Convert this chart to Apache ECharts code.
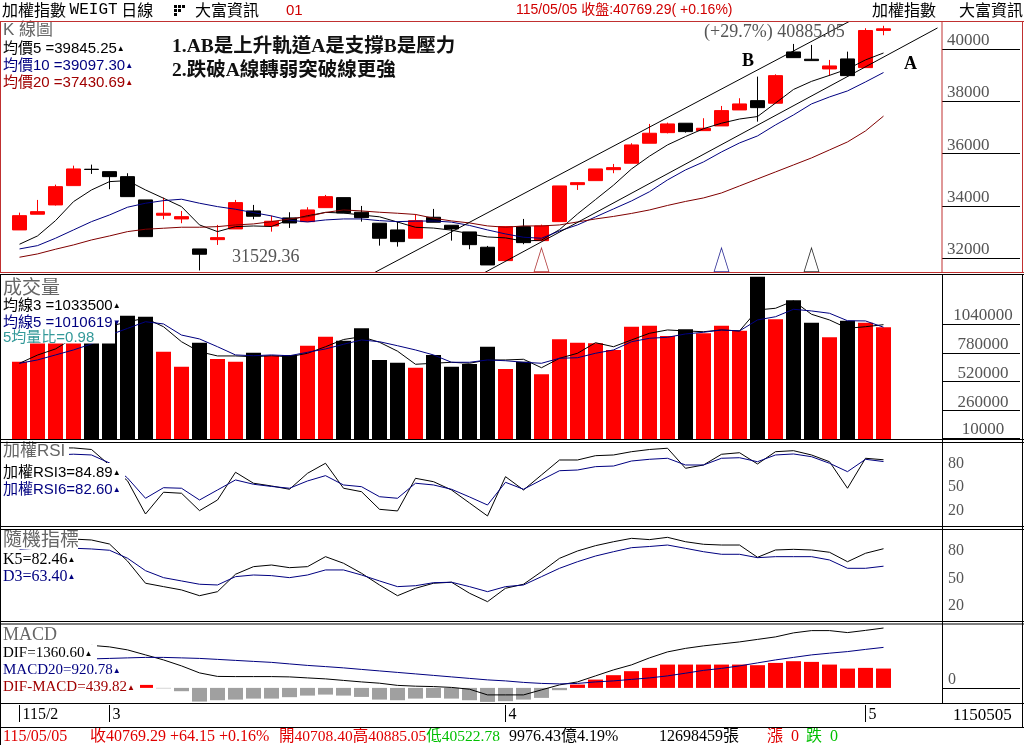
<!DOCTYPE html>
<html><head><meta charset="utf-8">
<script src="https://cdn.jsdelivr.net/npm/echarts@6/dist/echarts.min.js"></script>
<style>html,body{margin:0;padding:0;background:#fff}#c{width:1024px;height:745px}</style>
</head><body><div id="c"></div>
<script>
// ---------------- data ----------------
const dates = ['115/02/11','115/02/23','115/02/24','115/02/25','115/02/26',
 '115/03/02','115/03/03','115/03/04','115/03/05','115/03/06','115/03/09','115/03/10','115/03/11','115/03/12','115/03/13',
 '115/03/16','115/03/17','115/03/18','115/03/19','115/03/20','115/03/23','115/03/24','115/03/25','115/03/26','115/03/27',
 '115/03/30','115/03/31',
 '115/04/01','115/04/02','115/04/07','115/04/08','115/04/09','115/04/10','115/04/13','115/04/14','115/04/15','115/04/16',
 '115/04/17','115/04/20','115/04/21','115/04/22','115/04/23','115/04/24','115/04/27','115/04/28','115/04/29','115/04/30',
 '115/05/04','115/05/05'];
const opens = [33079,33679,34035,34773,35400,35308,35117,34226,33641,33499,32352,32708,33117,33805,33231,33538,33396,33931,34314,33755,33335,33079,32761,33564,33258,33002,32417,31905,33205,32669,33396,34811,34964,35384,35629,36394,36799,37159,36876,37056,37667,38023,37924,39885,39606,39235,39618,39285,40708.40];
const closes = [33625,33778,34734,35411,35390,35117,34352,32822,33717,33587,32149,32784,34123,33602,33411,33346,33843,34352,33729,33549,32761,32631,33434,33373,33117,32516,31740,33205,32593,33231,34761,34887,35411,35461,36329,36776,37132,36838,36967,37641,37897,37755,38979,39667,39553,39350,38979,40705,40769.29];
const lows = [33079,33679,34010,34773,35220,34635,34352,32822,33488,33335,31529.36,32505,33117,33488,33013,33155,33396,33931,33729,33396,32478,32440,32761,33373,32669,32340,31740,31905,32532,32669,33396,34608,34964,35247,35629,36394,36770,36800,36876,37056,37667,37220,37924,39667,39553,38968,38979,39285,40522.78];
const highs = [33740,34226,34811,35537,35576,35308,35247,34226,34314,33805,32352,33270,34226,34035,33625,33755,33947,34417,34314,33996,33335,33396,33679,33882,33258,33002,32467,33205,33499,33282,34761,34887,35411,35602,36394,37132,37182,37159,37350,37820,38115,38941,39030,40191,40153,39579,39897,40792,40885.05];
const ma5 = [32532,32849,33434,34161,34608,34926,34964,34608,34291,33970,33270,33014,33205,33230,33210,33470,33620,33750,33725,33650,33580,33380,33180,33150,33070,32930,32810,32775,32650,32690,33090,33690,34240,34790,35410,35900,36330,36650,36950,37160,37320,37415,37930,38450,38760,38990,39230,39580,39845.25];
const ma10 = [32352,32478,32761,33079,33396,33652,33947,34100,34199,34253,34100,33970,33870,33740,33614,33449,33384,33461,33499,33499,33434,33396,33415,33423,33377,33251,33079,32926,32799,32761,33040,33270,33576,33882,34188,34540,34991,35373,35679,36061,36405,36673,37094,37476,37897,38164,38394,38738,39097.30];
const ma20 = [32035,32161,32341,32505,32696,32849,33014,33105,33144,33182,33182,33205,33270,33308,33396,33499,33587,33748,33843,33805,33755,33717,33671,33526,33423,33346,33232,33182,33232,33232,33270,33384,33499,33595,33710,33843,34015,34168,34302,34493,34761,35029,35296,35564,35832,36138,36444,36864,37430.69];
const volumes = [700000,880000,900000,960000,1000000,1060000,1114000,1105000,790000,655000,871000,725000,700000,781000,754000,761000,844000,925000,889000,1001000,716000,691000,646000,761000,655000,680000,835000,635000,700000,587000,902000,871000,866000,806000,1015000,1024000,932000,992000,956000,1024000,979000,1465000,1082000,1253000,1051000,920000,1069000,1051000,1010000];
const volMa3 = [686000,760000,815000,913000,953000,1017000,1060000,1091000,1015000,880000,790000,752000,752000,745000,754000,745000,776000,835000,900000,925000,875000,795000,677000,686000,695000,686000,716000,716000,722000,646000,731000,776000,871000,835000,896000,956000,986000,977000,970000,986000,977000,1166000,1181000,1247000,1127000,1076000,1001000,1015000,1033500];
const volMa5 = [686000,716000,761000,806000,860000,940000,1000000,1060000,1040000,940000,905000,835000,761000,754000,761000,754000,785000,815000,857000,896000,880000,844000,806000,761000,695000,695000,716000,709000,695000,686000,731000,736000,776000,806000,880000,911000,920000,950000,965000,986000,977000,1076000,1105000,1172000,1157000,1136000,1069000,1067000,1010619];
const rsi3 = [100,100,100,100,98,78,58,15.6,43.4,42.1,19.9,33.5,68.9,54.9,51.4,47.2,67.6,80.4,48.5,44.1,21.6,19.5,61.2,56.9,46.3,29.7,13.1,63.3,46.3,65.5,84.6,84.6,90.1,91,95.2,98,99.6,74,78.2,91.9,93.9,79.5,95.2,96.5,91,82.4,48.5,86.8,84.89];
const rsi6 = [90,91,91,92,91,80.8,61.6,35.7,49.2,48.5,33.5,46.3,59.1,53.6,50.8,48.5,57.8,64.6,52.7,50.5,37.7,35.7,54.9,52.7,47.2,37.4,27.1,56.1,47.2,59.1,70.9,71.8,76.1,76.9,83.3,85.5,86.8,78.2,78.2,86.8,87.5,82.4,91,92.3,88.8,80.4,69.7,85.5,82.60];
const k5 = [88,90,92,93,92,87.6,69,44.8,41.1,37.5,31.2,35.6,54.6,62.9,64.7,61.8,62.9,73.8,66.6,55.7,42.9,31.2,39.3,44.8,45.9,33.9,24.7,39.3,43.7,57.4,72,80,85.8,90.1,93.8,92.4,94.9,90.1,87.3,86.5,86.5,73.1,81.1,81.8,81.1,78.6,68.3,77.5,82.46];
const d3 = [82,83,83,83,82.2,80.8,72.1,58.5,50.9,47.3,43.7,42.9,52,53.8,53.1,50.9,53.8,59.3,59.3,53.8,47.3,41.1,42.1,45.4,45.9,41.1,35.6,41.1,42.9,52,61.1,68.3,74.5,79.2,83.6,84.9,86.5,82.9,79.2,76.4,76.4,72.7,73.8,73.8,73.8,70.2,61.1,61.1,63.40];
const dif = [null,null,null,null,966,932,864,750,636,500,341,261,257,257,257,250,227,205,170,136,107,57,39,30,11,-30,-159,-159,-159,-45,68,136,273,409,523,682,818,898,955,1000,1045,1102,1159,1250,1302,1302,1257,1307,1360.60];
const macd20 = [null,null,null,null,659,670,682,693,693,682,670,648,625,602,580,545,511,484,455,420,386,352,318,284,250,216,182,159,125,102,91,102,136,159,193,227,273,334,398,443,500,568,636,693,750,789,825,875,920.78];
const macdHist = [null,null,null,null,null,null,null,68,-10,-75,-311,-280,-266,-243,-243,-211,-175,-152,-175,-205,-266,-280,-243,-227,-243,-280,-318,-302,-266,-227,-52,75,189,289,380,455,530,530,530,530,530,516,568,607,591,530,439,455,439.82];
const priceTicks = [32000,34000,36000,38000,40000];
const volumeTicks = [10000,260000,520000,780000,1040000];
const oscTicks = [20,50,80];
const macdTicks = [0];
const channelA = [[25,31136],[51,40803]];
const channelB = [[19,31186],[47,41380]];
const signalIdx = [29,39,44];
const signalColors = ['#a01010','#000080','#000000'];
const emptySlots = 3;

// ---------------- layout / style ----------------
const RED = '#ff0000', BLK = '#000000', NAVY = '#000080', DRED = '#800000', GRAY = '#a0a0a0';
const FR = '#c03030';
const SANS = '"Liberation Sans","Noto Sans CJK TC",sans-serif';
const SERIF = '"Liberation Serif","Noto Sans CJK TC",serif';
const CJK = '"Noto Sans CJK TC","Liberation Sans",sans-serif';
const PRICE_MIN = 31470, PRICE_MAX = 41030;

const cats = dates.concat(Array.from({length: emptySlots}, (_, i) => ' '.repeat(i + 1)));
const monthStart = [];
dates.forEach((d, i) => { const m = d.slice(4, 6); if (i === 0 || m !== dates[i - 1].slice(4, 6)) monthStart.push(i); });
const monthLabel = i => { const d = dates[i]; const m = String(parseInt(d.slice(4, 6), 10)); return i === 0 ? d.slice(0, 3) + '/' + m : m; };

const GL = 10.5, GW = 936;
const grids = [
  {left: GL, top: 22, width: GW, height: 250},
  {left: GL, top: 275, width: GW, height: 164.5},
  {left: GL, top: 443, width: GW, height: 84},
  {left: GL, top: 530, width: GW, height: 92},
  {left: GL, top: 624, width: GW, height: 79.3},
  {left: GL, top: 705, width: GW, height: 22}
].map(g => Object.assign({outerBoundsMode: 'none', containLabel: false, show: false}, g));

const xAxes = [0,1,2,3,4].map(gi => ({type: 'category', gridIndex: gi, data: cats, boundaryGap: true, show: false}));
xAxes.push({type: 'category', gridIndex: 5, data: cats, boundaryGap: true, position: 'top',
  axisLine: {show: false, onZero: false}, splitLine: {show: false},
  axisTick: {show: true, inside: true, length: 17, alignWithLabel: true, interval: i => monthStart.includes(i), lineStyle: {color: '#000', width: 1}},
  axisLabel: {show: true, inside: true, interval: i => monthStart.includes(i), formatter: (v, i) => monthLabel(i),
    align: 'left', verticalAlign: 'top', margin: 2, padding: [0, 0, 0, 3], color: '#000', fontFamily: SERIF, fontSize: 16}});

function rAxis(gi, min, max, ticks, opts) {
  return {type: 'value', gridIndex: gi, position: 'right', offset: -4.5, min: min, max: max,
    splitLine: {show: false}, axisLine: {show: false},
    axisTick: {show: !!opts.tick, customValues: ticks, length: 78, inside: false, lineStyle: {color: '#000', width: 1}},
    axisLabel: {customValues: ticks, formatter: v => String(v), margin: opts.margin, align: opts.align, verticalAlign: opts.va,
      color: '#555', fontFamily: SERIF, fontSize: opts.fs}};
}
const yAxes = [
  rAxis(0, PRICE_MIN, PRICE_MAX, priceTicks, {tick: true, margin: 5, align: 'left', va: 'bottom', fs: 17}),
  rAxis(1, 0, 1480500, volumeTicks, {tick: true, margin: 41, align: 'center', va: 'bottom', fs: 17}),
  rAxis(2, -1, 106.3, oscTicks, {tick: false, margin: 6, align: 'left', va: 'middle', fs: 16}),
  rAxis(3, 2.5, 102.9, oscTicks, {tick: false, margin: 6, align: 'left', va: 'middle', fs: 16}),
  rAxis(4, -350, 1452, macdTicks, {tick: true, margin: 6, align: 'left', va: 'bottom', fs: 16}),
  {type: 'value', gridIndex: 5, show: false, min: 0, max: 1}
];

function line(gi, data, color) {
  return {type: 'line', xAxisIndex: gi, yAxisIndex: gi, data: data, symbol: 'none', silent: true,
    lineStyle: {color: color, width: 1}, itemStyle: {color: color}, emphasis: {disabled: true}, connectNulls: false};
}
const series = [
  {type: 'candlestick', xAxisIndex: 0, yAxisIndex: 0, barWidth: 15, silent: true,
   data: opens.map((o, i) => [o, closes[i], lows[i], highs[i]]),
   itemStyle: {color: RED, color0: BLK, borderColor: RED, borderColor0: BLK, borderWidth: 1}},
  line(0, ma5, BLK), line(0, ma10, NAVY), line(0, ma20, DRED),
  line(0, channelA, BLK), line(0, channelB, BLK),
  {type: 'scatter', xAxisIndex: 0, yAxisIndex: 0, symbol: 'triangle', symbolSize: [15, 24], symbolOffset: [0, -12], clip: false, silent: true,
   data: signalIdx.map((idx, k) => ({value: [idx, PRICE_MIN], itemStyle: {color: 'rgba(0,0,0,0)', borderColor: signalColors[k], borderWidth: 1}}))},
  {type: 'bar', xAxisIndex: 1, yAxisIndex: 1, barWidth: 15, silent: true,
   data: volumes.map((v, i) => ({value: v, itemStyle: {color: closes[i] >= opens[i] ? RED : BLK}}))},
  line(1, volMa3, BLK), line(1, volMa5, NAVY),
  line(2, rsi3, BLK), line(2, rsi6, NAVY),
  line(3, k5, BLK), line(3, d3, NAVY),
  {type: 'bar', xAxisIndex: 4, yAxisIndex: 4, barWidth: 15, silent: true,
   data: macdHist.map(v => v == null ? null : {value: v, itemStyle: {color: v >= 0 ? RED : GRAY}})},
  line(4, dif, BLK), line(4, macd20, NAVY)
];

// ---------------- frame & texts ----------------
const G = [];
function hl(y, x1, x2, c) { G.push({type: 'line', silent: true, z: 300, shape: {x1: x1, y1: y, x2: x2, y2: y}, style: {stroke: c, lineWidth: 1}}); }
function vl(x, y1, y2, c) { G.push({type: 'line', silent: true, z: 300, shape: {x1: x, y1: y1, x2: x, y2: y2}, style: {stroke: c, lineWidth: 1}}); }
function box(x, y, w, h) { G.push({type: 'rect', silent: true, z: 250, shape: {x: x, y: y, width: w, height: h}, style: {fill: '#fff'}}); }
function txt(x, y, text, size, family, fill, weight, rich) {
  const st = {text: text, fontSize: size, fontFamily: family, fill: fill, align: 'left', verticalAlign: 'top'};
  if (weight) st.fontWeight = weight;
  if (rich) st.rich = rich;
  G.push({type: 'text', silent: true, z: 260, x: x, y: y, style: st});
}
const tri = c => ({t: {fontSize: 8, fill: c, fontFamily: SANS}});

// frames
hl(21.5, 0, 1024, FR); hl(272.5, 0, 1024, FR);
vl(0.5, 21, 273, FR); vl(942, 21, 273, FR); vl(1022.5, 21, 273, FR);
hl(274.5, 0, 1024, BLK);
hl(439.5, 0, 1024, BLK); hl(442.5, 0, 1024, BLK);
hl(526.5, 0, 1024, BLK); hl(529.5, 0, 1024, BLK);
hl(621.5, 0, 1024, BLK); hl(624, 0, 1024, BLK);
hl(703.5, 0, 1024, BLK); hl(727.5, 0, 1024, BLK);
vl(0.5, 274, 745, BLK); vl(942.5, 274, 704, BLK); vl(1022.5, 274, 728, BLK);

// title row
txt(2, 2, '加權指數 {m|WEIGT} 日線', 16, CJK, '#000', null, {m: {fontSize: 16, fontFamily: '"Liberation Mono",monospace', fill: '#000'}});
[[174,5],[178,5],[182,5],[174,9],[178,9],[174,13]].forEach(p => G.push({type: 'rect', silent: true, z: 260, shape: {x: p[0], y: p[1], width: 3, height: 3}, style: {fill: '#000'}}));
txt(195, 2, '大富資訊', 16, CJK, '#000');
txt(286, 3, '01', 15, SANS, '#d00000');
txt(516, 3, '115/05/05 收盤:40769.29( +0.16%)', 14, SANS, '#d00000');
txt(872, 2, '加權指數', 16, CJK, '#000');
txt(959, 2, '大富資訊', 16, CJK, '#000');

// K panel labels
txt(3, 22, 'K 線圖', 17, SANS, '#666');
txt(3, 41, '均價5 =39845.25{t|▲}', 15, SANS, '#000', null, tri('#000'));
txt(3, 58, '均價10 =39097.30{t|▲}', 15, SANS, NAVY, null, tri(NAVY));
txt(3, 75, '均價20 =37430.69{t|▲}', 15, SANS, '#a00000', null, tri('#a00000'));
txt(172, 37, '1.AB是上升軌道A是支撐B是壓力', 19.5, SERIF, '#111', 'bold');
txt(172, 61, '2.跌破A線轉弱突破線更強', 19.5, SERIF, '#111', 'bold');
txt(704, 23, '(+29.7%) 40885.05', 18, SERIF, '#555');
txt(232, 248, '31529.36', 18, SERIF, '#555');
txt(742, 52, 'B', 18, SERIF, '#000', 'bold');
txt(904, 55, 'A', 18, SERIF, '#000', 'bold');

// volume labels
box(1, 276, 114, 67.5);
txt(3, 277, '成交量', 19, CJK, '#666');
txt(3, 298, '均線3 =1033500{t|▲}', 15, SANS, '#000', null, tri('#000'));
txt(3, 315, '均線5 =1010619{t|▼}', 15, SANS, NAVY, null, tri(NAVY));
txt(3, 330, '5均量比=0.98', 15, SANS, '#339999');

// RSI labels
box(1, 443, 68, 18); box(1, 463, 124, 35);
txt(3, 443, '加權RSI', 17, SANS, '#666');
txt(3, 465, '加權RSI3=84.89{t|▲}', 15, SANS, '#000', null, tri('#000'));
txt(3, 482, '加權RSI6=82.60{t|▲}', 15, SANS, NAVY, null, tri(NAVY));

// KD labels
box(1, 530, 77, 19); box(1, 550, 76, 36);
txt(3, 529, '隨機指標', 19, CJK, '#666');
txt(3, 552, 'K5=82.46{t|▲}', 16, SERIF, '#000', null, tri('#000'));
txt(3, 569, 'D3=63.40{t|▲}', 16, SERIF, NAVY, null, tri(NAVY));

// MACD labels
box(1, 625, 57, 19); box(1, 645, 96, 17); box(1, 662, 121, 17); box(1, 679, 139, 18);
txt(3, 626, 'MACD', 18, SERIF, '#666');
txt(3, 646, 'DIF=1360.60{t|▲}', 15, SERIF, '#000', null, tri('#000'));
txt(3, 663, 'MACD20=920.78{t|▲}', 15, SERIF, NAVY, null, tri(NAVY));
txt(3, 680, 'DIF-MACD=439.82{t|▲}', 15, SERIF, '#a00000', null, tri('#a00000'));

// date row right
txt(953, 707, '1150505', 17, SERIF, '#000');

// status row
const RT = '#e00000', GT = '#00c000';
txt(3, 729, '115/05/05', 16, SERIF, RT);
txt(90, 729, '收40769.29 +64.15 +0.16%', 16, SERIF, RT);
txt(279, 729, '{r|開40708.40高40885.05}{g|低40522.78}', 15.5, SERIF, RT, null,
  {r: {fontSize: 15.5, fontFamily: SERIF, fill: RT}, g: {fontSize: 15.5, fontFamily: SERIF, fill: GT}});
txt(509, 729, '9976.43億4.19%', 16, SERIF, '#000');
txt(659, 729, '12698459張', 16, SERIF, '#000');
txt(767, 729, '漲  0', 16, SERIF, RT);
txt(806, 729, '跌  0', 16, SERIF, GT);

const chart = echarts.init(document.getElementById('c'), null, {renderer: 'canvas', width: 1024, height: 745});
chart.setOption({
  animation: false,
  backgroundColor: '#fff',
  grid: grids, xAxis: xAxes, yAxis: yAxes, series: series,
  graphic: {elements: G}
});
</script></body></html>
